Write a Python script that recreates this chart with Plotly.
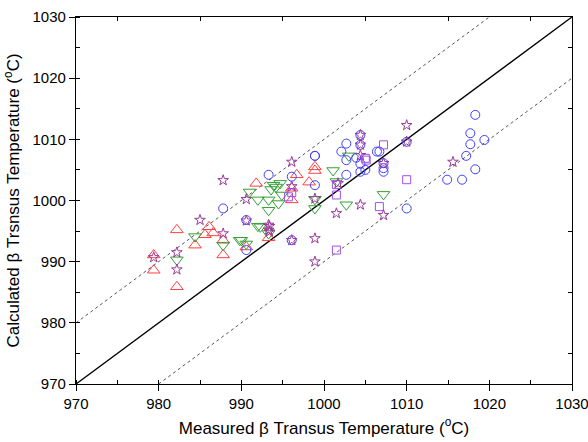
import plotly.graph_objects as go

# Red up-triangles
red_x = [979.4, 979.4, 982.2, 982.2, 984.4, 986.1, 985.6, 986.6, 987.8, 987.8, 990.6, 993.3,
         991.8, 996.7, 998.2, 998.9, 998.9, 996.1, 996.1]
red_y = [991.1, 988.6, 995.2, 985.9, 992.7, 995.7, 994.4, 994.7, 993.5, 991.1, 992.4, 993.9,
         1002.8, 1004.2, 1003.0, 1005.5, 1004.9, 1002.0, 1000.1]

# Green down-triangles
green_x = [984.4, 982.2, 987.8, 989.8, 990.6, 992.0, 993.3, 1001.1, 991.0, 992.0, 993.3, 993.3,
           994.5, 993.9, 994.7, 994.9, 990.0, 992.3, 998.9, 998.9, 1001.5, 1002.7, 1003.0, 1007.2,
           994.2, 993.6]
green_y = [994.1, 990.3, 992.7, 993.5, 992.9, 995.8, 994.6, 1004.9, 1001.4, 1000.1, 1000.1, 998.4,
           999.5, 1002.5, 1002.8, 1000.9, 993.5, 995.7, 998.7, 1000.2, 1003.1, 999.3, 1007.3, 1001.0,
           1002.2, 1001.8]

# Blue circles
blue_x = [987.8, 998.9, 993.3, 990.6, 996.1, 996.1, 998.9, 1002.7, 1002.1, 1002.7, 1003.9, 1004.4,
          990.6, 1004.4, 1004.4, 1002.7, 998.9, 1006.4, 1018.3, 1017.7, 1019.4, 1017.7, 1017.2,
          1018.3, 1014.9, 1016.7, 1010.0, 1010.0, 1006.7, 1007.2, 1007.2, 1007.2, 1005.0, 1004.4]
blue_y = [998.7, 1007.3, 1004.2, 996.8, 1003.9, 993.5, 1002.5, 1004.2, 1008.0, 1006.6, 1007.0, 1004.7,
          991.9, 1010.7, 1009.1, 1009.3, 1007.3, 1008.0, 1014.0, 1011.0, 1009.9, 1009.2, 1007.3,
          1005.1, 1003.4, 1003.4, 1009.6, 998.7, 1008.0, 1006.1, 1005.3, 1004.7, 1005.0, 1006.0]

# Purple squares
sq_x = [995.7, 1001.5, 1001.5, 1005.0, 1007.2, 1005.1, 1010.0, 1006.7, 996.1, 1001.5]
sq_y = [1000.6, 1000.9, 991.9, 1006.9, 1009.1, 1006.6, 1003.4, 999.0, 1001.3, 1002.6]

# Purple stars
star_x = [985.0, 987.8, 982.2, 982.2, 979.4, 993.4, 993.4, 987.8, 996.1, 990.6, 996.1, 998.9,
          993.3, 993.3, 996.1, 998.9, 1004.4, 1001.5, 1001.7, 1004.4, 1010.0, 1015.6, 1007.2,
          1010.0, 1007.2, 998.9, 1004.4, 1004.4, 990.6]
star_y = [996.8, 994.6, 991.5, 988.7, 990.7, 995.8, 994.9, 1003.3, 1006.3, 1000.2, 1002.3, 1000.3,
          996.0, 995.2, 993.5, 993.8, 999.3, 997.9, 1002.8, 1007.4, 1012.3, 1006.3, 997.6,
          1009.6, 1006.1, 990.0, 1010.7, 1009.1, 996.7]

line_x = [970, 1030]
line_y = [970, 1030]
up_x = [970, 1020]
up_y = [980, 1030]
lo_x = [980, 1030]
lo_y = [970, 1020]

fig = go.Figure()
fig.add_trace(go.Scatter(x=line_x, y=line_y, mode="lines", line=dict(color="black", width=1.4)))
fig.add_trace(go.Scatter(x=up_x, y=up_y, mode="lines", line=dict(color="#555555", width=1, dash="dot")))
fig.add_trace(go.Scatter(x=lo_x, y=lo_y, mode="lines", line=dict(color="#555555", width=1, dash="dot")))

def mk(x, y, sym, color, size):
    return go.Scatter(x=x, y=y, mode="markers",
                      marker=dict(symbol=sym, size=size, color=color,
                                  line=dict(color=color, width=1)))

fig.add_trace(mk(red_x, red_y, "triangle-up-open", "#FF4040", 11))
fig.add_trace(mk(green_x, green_y, "triangle-down-open", "#33A033", 11))
fig.add_trace(mk(blue_x, blue_y, "circle-open", "#3F3FFF", 9))
fig.add_trace(mk(sq_x, sq_y, "square-open", "#A050F0", 8))
fig.add_trace(mk(star_x, star_y, "star-open", "#9A3A9A", 8))
# invisible trace on mirrored axes
fig.add_trace(go.Scatter(x=[970], y=[970], xaxis="x2", yaxis="y2", mode="markers",
                         marker=dict(opacity=0), hoverinfo="skip"))

axfont = dict(family="Arial, Liberation Sans, sans-serif", size=15, color="black")
common = dict(range=[970, 1030], dtick=10, tick0=970, showgrid=False, zeroline=False,
              showline=True, linecolor="black", linewidth=1.3, ticks="outside", ticklen=6,
              tickwidth=1.3, tickcolor="black", tickfont=axfont, automargin=False,
              ticklabeloverflow="allow",
              minor=dict(dtick=5, ticks="inside", ticklen=4, tickcolor="black", tickwidth=1.2))

titlefont = dict(family="Arial, Liberation Sans, sans-serif", size=17, color="black")

fig.update_layout(
    width=588, height=442,
    margin=dict(l=76, r=16, t=17, b=58),
    paper_bgcolor="white", plot_bgcolor="white",
    showlegend=False,
    xaxis=dict(**common, title=dict(text="Measured β Transus Temperature (<sup>o</sup>C)",
                                    font=titlefont, standoff=10)),
    yaxis=dict(**common, title=dict(text="Calculated β Trsnsus Temperature (<sup>o</sup>C)",
                                    font=titlefont, standoff=8)),
    xaxis2=dict(range=[970, 1030], overlaying="x", side="top", showgrid=False, zeroline=False,
                showline=True, linecolor="black", linewidth=1.3, showticklabels=False,
                ticks="", automargin=False,
                minor=dict(dtick=5, ticks="inside", ticklen=4, tickcolor="black", tickwidth=1.2)),
    yaxis2=dict(range=[970, 1030], overlaying="y", side="right", showgrid=False, zeroline=False,
                showline=True, linecolor="black", linewidth=1.3, showticklabels=False,
                ticks="", automargin=False,
                minor=dict(dtick=5, ticks="inside", ticklen=4, tickcolor="black", tickwidth=1.2)),
)

fig.write_html("out.html", config={"displayModeBar": False},
               post_script="document.body.style.margin='0';")
